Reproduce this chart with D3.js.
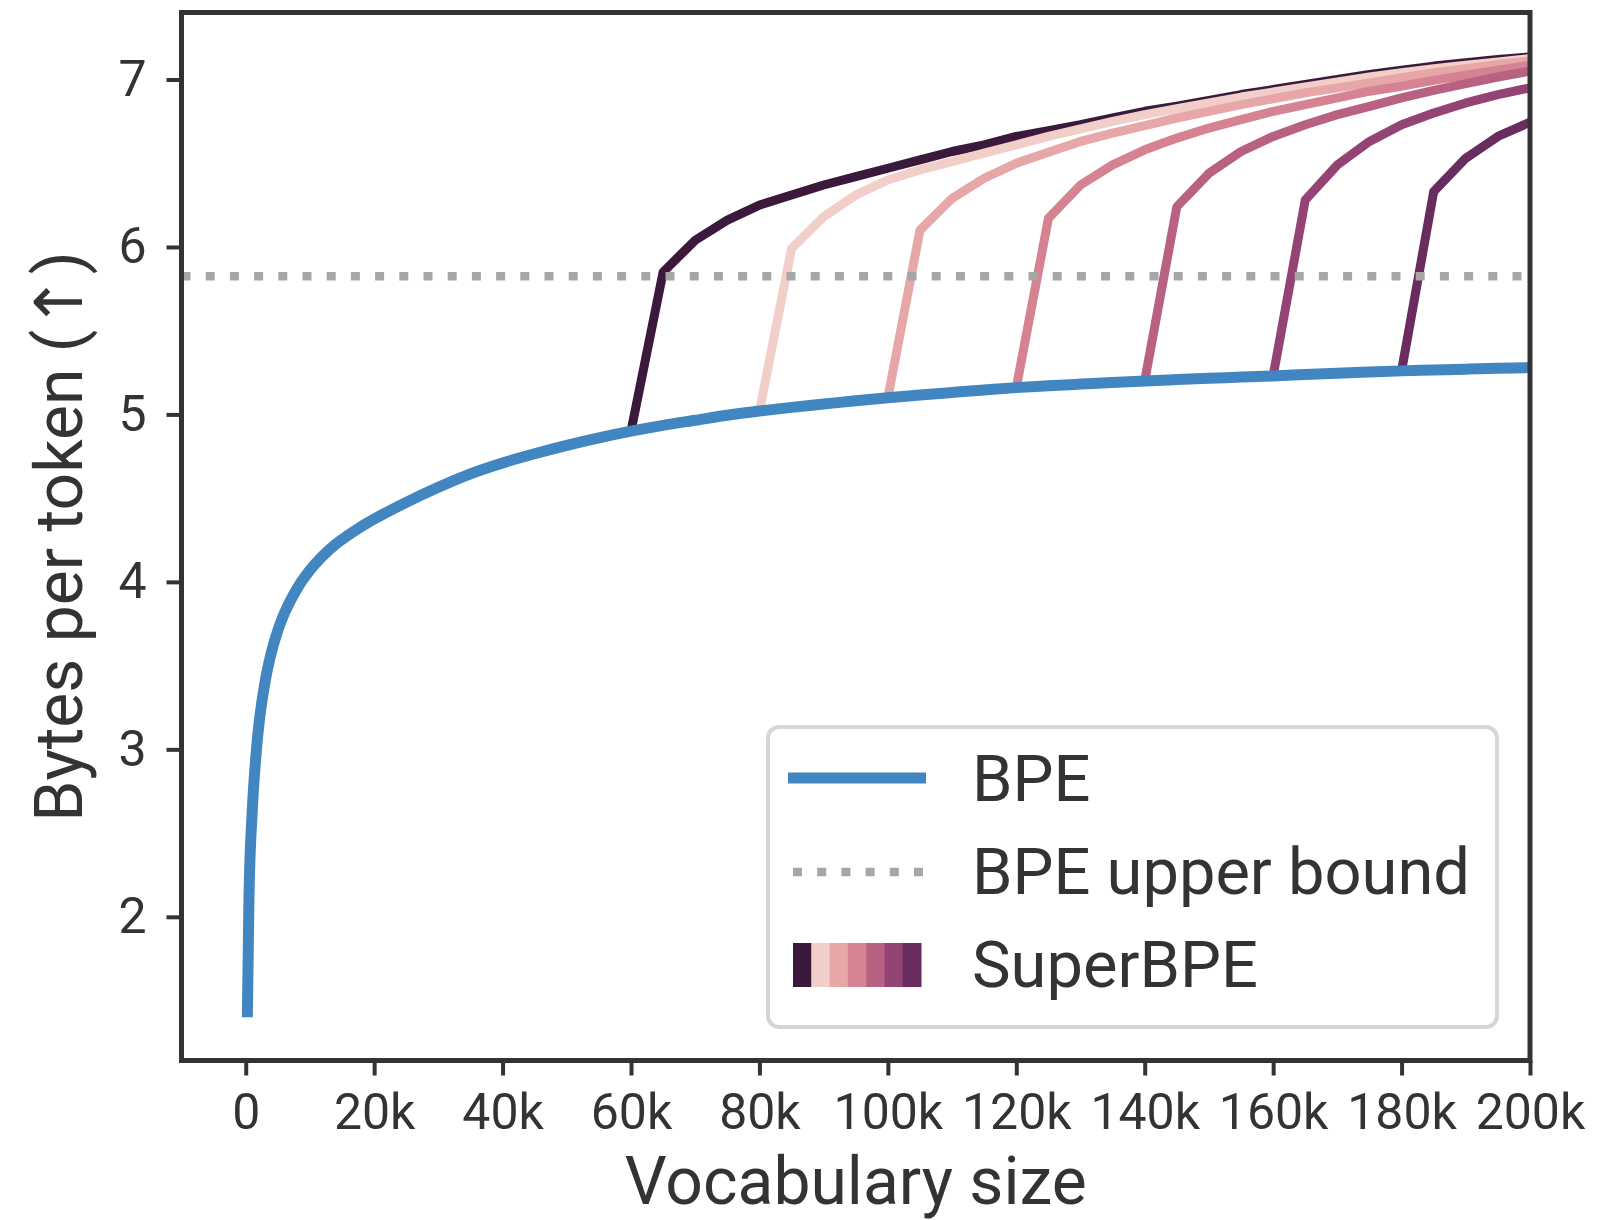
<!DOCTYPE html>
<html>
<head>
<meta charset="utf-8">
<script src="https://cdn.jsdelivr.net/npm/d3@7"></script>
<style>
  html, body { margin: 0; padding: 0; background: #fff; }
  svg { display: block; }
  text { font-family: Roboto, "Noto Sans", "DejaVu Sans", sans-serif; fill: #333; }
</style>
</head>
<body>
<svg id="chart" width="1599" height="1220"></svg>
<script>
// ---- data -------------------------------------------------------------
// BPE: bytes per token against vocabulary size
const bpeVocab = [256, 500, 1000, 1500, 2000, 3000, 4000, 5000, 6000, 8000, 10000, 12000, 14000, 16000, 18000, 20000,
  25000, 30000, 35000, 40000, 45000, 50000, 55000, 60000, 65000, 70000, 75000, 80000, 85000, 90000, 95000, 100000,
  105000, 110000, 115000, 120000, 125000, 130000, 135000, 140000, 145000, 150000, 155000, 160000, 165000, 170000,
  175000, 180000, 185000, 190000, 195000, 200000];
const bpeBytes = [1.40, 2.10, 2.62, 2.92, 3.13, 3.40, 3.58, 3.71, 3.81, 3.96, 4.07, 4.155, 4.225, 4.28, 4.33, 4.375,
  4.475, 4.565, 4.645, 4.71, 4.765, 4.815, 4.86, 4.90, 4.935, 4.965, 4.995, 5.02, 5.042, 5.062, 5.082, 5.10,
  5.116, 5.131, 5.146, 5.16, 5.171, 5.181, 5.191, 5.20, 5.208, 5.216, 5.223, 5.23, 5.238, 5.246,
  5.253, 5.26, 5.265, 5.27, 5.275, 5.28];

// BPE upper bound
const bpeUpperBound = 5.825;

// SuperBPE runs, one per transition point; null before the transition
const superVocab = [60000, 65000, 70000, 75000, 80000, 85000, 90000, 95000, 100000, 105000, 110000, 115000, 120000,
  125000, 130000, 135000, 140000, 145000, 150000, 155000, 160000, 165000, 170000, 175000, 180000, 185000, 190000,
  195000, 200000];
const superT60k = [4.90, 5.85, 6.04, 6.16, 6.25, 6.31, 6.37, 6.42, 6.47, 6.52, 6.57, 6.61, 6.66,
  6.695, 6.73, 6.77, 6.81, 6.84, 6.875, 6.91, 6.94, 6.97, 7.00, 7.03, 7.055, 7.08, 7.10, 7.12, 7.135];
const superT80k = [null, null, null, null, 5.02, 5.99, 6.18, 6.31, 6.40, 6.46, 6.51, 6.56, 6.61,
  6.66, 6.705, 6.75, 6.79, 6.825, 6.86, 6.895, 6.925, 6.955, 6.985, 7.015, 7.04, 7.065, 7.085, 7.105, 7.125];
const superT100k = [null, null, null, null, null, null, null, null, 5.10, 6.10, 6.29, 6.41, 6.50,
  6.565, 6.63, 6.68, 6.725, 6.77, 6.81, 6.85, 6.885, 6.92, 6.95, 6.98, 7.01, 7.04, 7.065, 7.09, 7.11];
const superT120k = [null, null, null, null, null, null, null, null, null, null, null, null, 5.16,
  6.17, 6.37, 6.49, 6.58, 6.65, 6.71, 6.76, 6.81, 6.85, 6.89, 6.93, 6.96, 6.995, 7.025, 7.055, 7.085];
const superT140k = [null, null, null, null, null, null, null, null, null, null, null, null, null,
  null, null, null, 5.20, 6.24, 6.44, 6.57, 6.66, 6.73, 6.79, 6.84, 6.89, 6.935, 6.975, 7.015, 7.05];
const superT160k = [null, null, null, null, null, null, null, null, null, null, null, null, null,
  null, null, null, null, null, null, null, 5.23, 6.28, 6.49, 6.63, 6.73, 6.80, 6.86, 6.91, 6.95];
const superT180k = [null, null, null, null, null, null, null, null, null, null, null, null, null,
  null, null, null, null, null, null, null, null, null, null, null, 5.26, 6.33, 6.53, 6.66, 6.745];

const superSeries = [superT60k, superT80k, superT100k, superT120k, superT140k, superT160k, superT180k];
const superColors = ["#3b193d", "#f1cfc8", "#e7a7a8", "#d58292", "#b96182", "#944474", "#682c5e"];

const xTickValues = [0, 20000, 40000, 60000, 80000, 100000, 120000, 140000, 160000, 180000, 200000];
const xTickLabels = ["0", "20k", "40k", "60k", "80k", "100k", "120k", "140k", "160k", "180k", "200k"];
const yTickValues = [2, 3, 4, 5, 6, 7];

const legendLabels = ["BPE", "BPE upper bound", "SuperBPE"];

// ---- layout -----------------------------------------------------------
const plot = { left: 181.5, right: 1530, top: 12.5, bottom: 1060.5 };
const bpeColor = "#4286c1";
const boundColor = "#a6a6a6";
const ink = "#333333";

const svg = d3.select("#chart");

const x = d3.scaleLinear().domain([-10000, 200000]).range([plot.left, plot.right]);
const y = d3.scaleLinear().domain([1.142, 7.40]).range([plot.bottom, plot.top]);

svg.append("defs").append("clipPath").attr("id", "plot-clip")
  .append("rect")
  .attr("x", plot.left).attr("y", plot.top)
  .attr("width", plot.right - plot.left).attr("height", plot.bottom - plot.top);

const lines = svg.append("g").attr("clip-path", "url(#plot-clip)");

// SuperBPE curves, earliest transition first
const superLine = d3.line()
  .defined(d => d[1] !== null)
  .x(d => x(d[0])).y(d => y(d[1]))
  .curve(d3.curveLinear);

superSeries.forEach((vals, i) => {
  lines.append("path")
    .datum(superVocab.map((v, j) => [v, vals[j]]))
    .attr("d", superLine)
    .attr("fill", "none")
    .attr("stroke", superColors[i])
    .attr("stroke-width", 9)
    .attr("stroke-linejoin", "round")
    .attr("stroke-linecap", "butt");
});

// BPE curve
const bpeLine = d3.line()
  .x(d => x(d[0])).y(d => y(d[1]))
  .curve(d3.curveMonotoneX);

lines.append("path")
  .datum(bpeVocab.map((v, j) => [v, bpeBytes[j]]))
  .attr("d", bpeLine)
  .attr("fill", "none")
  .attr("stroke", bpeColor)
  .attr("stroke-width", 11)
  .attr("stroke-linejoin", "round")
  .attr("stroke-linecap", "butt");

// upper bound reference line
lines.append("line")
  .attr("x1", plot.left).attr("x2", plot.right)
  .attr("y1", y(bpeUpperBound)).attr("y2", y(bpeUpperBound))
  .attr("stroke", boundColor)
  .attr("stroke-width", 8.5)
  .attr("stroke-dasharray", "9 15.2");

// ---- axes -------------------------------------------------------------
const xAxis = d3.axisBottom(x)
  .tickValues(xTickValues)
  .tickFormat((d, i) => xTickLabels[i])
  .tickSize(15).tickPadding(18);

const yAxis = d3.axisLeft(y)
  .tickValues(yTickValues)
  .tickFormat(d3.format("d"))
  .tickSize(15).tickPadding(20);

const gx = svg.append("g").attr("transform", `translate(0,${plot.bottom})`).call(xAxis);
const gy = svg.append("g").attr("transform", `translate(${plot.left},0)`).call(yAxis);

[gx, gy].forEach(g => {
  g.select(".domain").remove();
  g.selectAll(".tick line").attr("stroke", ink).attr("stroke-width", 4);
  g.selectAll(".tick text")
    .attr("fill", ink)
    .style("font-size", "50px")
    .style("font-family", "Roboto, 'Noto Sans', sans-serif");
});

// spines
svg.append("rect")
  .attr("x", plot.left).attr("y", plot.top)
  .attr("width", plot.right - plot.left).attr("height", plot.bottom - plot.top)
  .attr("fill", "none")
  .attr("stroke", ink)
  .attr("stroke-width", 5);

// axis titles
svg.append("text")
  .attr("x", (plot.left + plot.right) / 2)
  .attr("y", 1204)
  .attr("text-anchor", "middle")
  .style("font-size", "66px")
  .text("Vocabulary size");

svg.append("text")
  .attr("transform", `translate(82,${(plot.top + plot.bottom) / 2}) rotate(-90)`)
  .attr("text-anchor", "middle")
  .style("font-size", "66px")
  .text("Bytes per token (↑)");

// ---- legend -----------------------------------------------------------
const legend = svg.append("g");
legend.append("rect")
  .attr("x", 768).attr("y", 727)
  .attr("width", 729).attr("height", 300)
  .attr("rx", 11).attr("ry", 11)
  .attr("fill", "#fff")
  .attr("stroke", "#d6d6d6")
  .attr("stroke-width", 4);

const rowBase = [801, 894, 987];

legend.append("line")
  .attr("x1", 788).attr("x2", 926)
  .attr("y1", 778).attr("y2", 778)
  .attr("stroke", bpeColor).attr("stroke-width", 11);

legend.append("line")
  .attr("x1", 793).attr("x2", 926)
  .attr("y1", 872).attr("y2", 872)
  .attr("stroke", boundColor).attr("stroke-width", 8.5)
  .attr("stroke-dasharray", "9 15.2");

const patchX = d3.scaleBand().domain(d3.range(superColors.length)).range([793, 921]);
legend.selectAll("rect.swatch")
  .data(superColors)
  .join("rect")
  .attr("class", "swatch")
  .attr("x", (d, i) => patchX(i))
  .attr("y", 943)
  .attr("width", patchX.bandwidth() + 0.5)
  .attr("height", 44)
  .attr("fill", d => d);

legend.selectAll("text.label")
  .data(legendLabels)
  .join("text")
  .attr("class", "label")
  .attr("x", 972)
  .attr("y", (d, i) => rowBase[i])
  .style("font-size", "65px")
  .text(d => d);
</script>
</body>
</html>
